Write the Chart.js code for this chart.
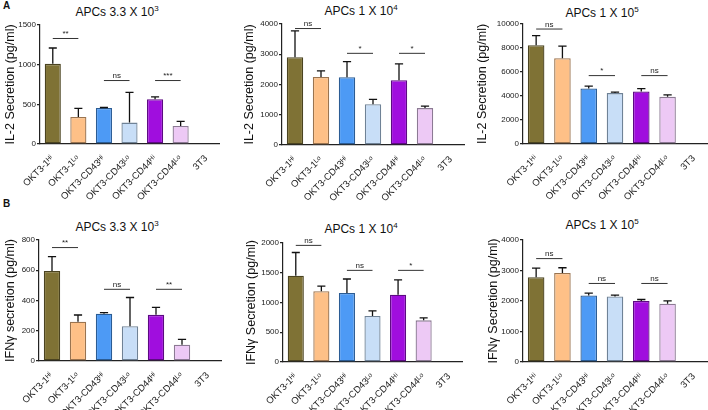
<!DOCTYPE html>
<html>
<head>
<meta charset="utf-8">
<script src="https://cdn.jsdelivr.net/npm/chart.js@4"></script>
<style>
  body { margin: 0; background: #fff; width: 708px; height: 410px; position: relative; overflow: hidden;
         font-family: 'Liberation Sans', Arial, sans-serif; }
  canvas { position: absolute; }
  .titulo { position: absolute; font-size: 12px; color: #111; white-space: nowrap; transform: translate(-50%, -50%); }
  .titulo sup { font-size: 8px; }
  .letra { position: absolute; font-size: 10px; font-weight: bold; color: #111; }
</style>
</head>
<body>
<div class="letra" style="left:3px;top:0px">A</div>
<div class="letra" style="left:3px;top:198px">B</div>
<div class="titulo" style="left:117px;top:11px">APCs 3.3 X 10<sup>3</sup></div>
<div class="titulo" style="left:361px;top:10px">APCs 1 X 10<sup>4</sup></div>
<div class="titulo" style="left:602px;top:12px">APCs 1 X 10<sup>5</sup></div>
<div class="titulo" style="left:117px;top:226px">APCs 3.3 X 10<sup>3</sup></div>
<div class="titulo" style="left:361px;top:228px">APCs 1 X 10<sup>4</sup></div>
<div class="titulo" style="left:602px;top:224px">APCs 1 X 10<sup>5</sup></div>

<canvas id="a1"></canvas>
<canvas id="a2"></canvas>
<canvas id="a3"></canvas>
<canvas id="b1"></canvas>
<canvas id="b2"></canvas>
<canvas id="b3"></canvas>

<script>
// Categorias (eixo x)
const categorias = ['OKT3-1ᴴⁱ', 'OKT3-1ᴸᵒ', 'OKT3-CD43ᴴⁱ', 'OKT3-CD43ᴸᵒ', 'OKT3-CD44ᴴⁱ', 'OKT3-CD44ᴸᵒ', '3T3'];

// IL-2 (painel A) - médias e erros
const il2Baixo = [1010, 340, 455, 270, 565, 228, 0];
const il2BaixoErro = [200, 110, 5, 380, 30, 57, 0];
const il2Medio = [2900, 2250, 2240, 1345, 2140, 1220, 0];
const il2MedioErro = [870, 200, 515, 165, 540, 65, 0];
const il2Alto = [8230, 7150, 4630, 4240, 4380, 3930, 0];
const il2AltoErro = [800, 1000, 200, 80, 230, 160, 0];

// IFN-gamma (painel B)
const ifnBaixo = [595, 260, 313, 230, 305, 108, 0];
const ifnBaixoErro = [95, 44, 7, 190, 50, 35, 0];
const ifnMedio = [1450, 1190, 1160, 775, 1130, 700, 0];
const ifnMedioErro = [390, 85, 235, 85, 250, 40, 0];
const ifnAlto = [2780, 2920, 2180, 2150, 2000, 1910, 0];
const ifnAltoErro = [300, 170, 75, 45, 50, 95, 0];

// Marcas de significância: [barra inicial, barra final, nível, texto]
const sigA1 = [[0, 1, 1330, '**'], [2, 3, 800, 'ns'], [4, 5, 800, '***']];
const sigA2 = [[0, 1, 3850, 'ns'], [2, 3, 3030, '*'], [4, 5, 3030, '*']];
const sigA3 = [[0, 1, 9580, 'ns'], [2, 3, 5700, '*'], [4, 5, 5700, 'ns']];
const sigB1 = [[0, 1, 750, '**'], [2, 3, 474, 'ns'], [4, 5, 474, '**']];
const sigB2 = [[0, 1, 1960, 'ns'], [2, 3, 1540, 'ns'], [4, 5, 1540, '*']];
const sigB3 = [[0, 1, 3390, 'ns'], [2, 3, 2575, 'ns'], [4, 5, 2575, 'ns']];

// Ticks do eixo y: [máximo, passo]
const ticksA1 = [1500, 500];
const ticksA2 = [4000, 1000];
const ticksA3 = [10000, 2000];
const ticksB1 = [800, 200];
const ticksB2 = [2000, 500];
const ticksB3 = [4000, 1000];

// Paleta
const cores = ['#7f7235', '#fec087', '#4d9af5', '#c8def7', '#a00ede', '#edc9f5', '#ffffff'];
const bordas = ['#4a4320', '#9a7450', '#2b5c94', '#6f8296', '#5c0a82', '#8c7a94', '#ffffff'];

const FONTE = "'Liberation Sans', Arial, sans-serif";

// Plugin de barras de erro e significância
const extrasPlugin = {
    id: 'extras',
    afterDatasetsDraw(chart) {
        const ctx = chart.ctx;
        const meta = chart.getDatasetMeta(0);
        const y = chart.scales.y;
        const vals = chart.data.datasets[0].data;
        const erros = chart.options.plugins.extras.erros;
        ctx.save();
        ctx.strokeStyle = '#111';
        ctx.lineWidth = 1.3;
        meta.data.forEach((bar, i) => {
            if (!erros[i]) return;
            const yTop = y.getPixelForValue(vals[i] + erros[i]);
            const half = bar.width * 0.25;
            ctx.beginPath();
            ctx.moveTo(bar.x, bar.y);
            ctx.lineTo(bar.x, yTop);
            ctx.moveTo(bar.x - half, yTop);
            ctx.lineTo(bar.x + half, yTop);
            ctx.stroke();
        });
        ctx.lineWidth = 1;
        ctx.strokeStyle = '#333';
        ctx.fillStyle = '#222';
        ctx.font = '8px ' + FONTE;
        ctx.textAlign = 'center';
        ctx.textBaseline = 'bottom';
        chart.options.plugins.extras.sig.forEach(([a, b, nivel, txt]) => {
            const x1 = meta.data[a].x;
            const x2 = meta.data[b].x;
            const yy = y.getPixelForValue(nivel);
            ctx.beginPath();
            ctx.moveTo(x1, yy);
            ctx.lineTo(x2, yy);
            ctx.stroke();
            ctx.fillText(txt, (x1 + x2) / 2, yy - 0.5);
        });
        ctx.restore();
    }
};

// Criar painel: caixa do canvas e área do gráfico em coordenadas da página
function criarPainel(id, caixa, area, valores, erros, sig, ticks, tituloY) {
    const cv = document.getElementById(id);
    const [cl, ct, cw, ch] = caixa;
    cv.style.left = cl + 'px';
    cv.style.top = ct + 'px';
    cv.width = cw;
    cv.height = ch;
    const [al, at, ar, ab] = area;

    new Chart(cv, {
        type: 'bar',
        data: {
            labels: categorias,
            datasets: [{
                data: valores,
                backgroundColor: cores,
                borderColor: bordas,
                borderWidth: 1.3,
                borderSkipped: false,
                barPercentage: 0.63,
                categoryPercentage: 1
            }]
        },
        options: {
            responsive: false,
            animation: false,
            events: [],
            layout: { padding: { left: 0, top: at - ct, right: cl + cw - ar, bottom: 0 } },
            plugins: {
                legend: { display: false },
                tooltip: { enabled: false },
                extras: { erros: erros, sig: sig }
            },
            scales: {
                x: {
                    grid: { display: false },
                    border: { display: true, color: '#222', width: 1.2 },
                    ticks: {
                        color: '#222',
                        font: { family: FONTE, size: 9.5 },
                        minRotation: 45, maxRotation: 45,
                        padding: 1,
                        autoSkip: false
                    },
                    afterFit: s => { s.height = ct + ch - ab; }
                },
                y: {
                    min: 0,
                    max: ticks[0],
                    grid: { drawOnChartArea: false, drawTicks: true, tickLength: 3, color: '#222', lineWidth: 1.2 },
                    border: { display: true, color: '#222', width: 1.2 },
                    ticks: {
                        stepSize: ticks[1],
                        color: '#222',
                        font: { family: FONTE, size: 8 },
                        padding: 1,
                        callback: v => String(v)
                    },
                    title: {
                        display: true,
                        text: tituloY,
                        color: '#111',
                        font: { family: FONTE, size: 12.5 },
                        padding: { top: 3, bottom: 0 }
                    },
                    afterFit: s => { s.width = al - cl; }
                }
            }
        },
        plugins: [extrasPlugin]
    });
}

document.addEventListener('DOMContentLoaded', () => {
    criarPainel('a1', [0, 15, 236, 190], [40, 25, 219, 144], il2Baixo, il2BaixoErro, sigA1, ticksA1, 'IL-2 Secretion (pg/ml)');
    criarPainel('a2', [239, 15, 233, 190], [282, 24, 464, 145], il2Medio, il2MedioErro, sigA2, ticksA2, 'IL-2 Secretion (pg/ml)');
    criarPainel('a3', [472, 15, 236, 190], [523, 24, 707, 144], il2Alto, il2AltoErro, sigA3, ticksA3, 'IL-2 Secretion (pg/ml)');
    criarPainel('b1', [0, 230, 236, 180], [39, 240, 221, 361], ifnBaixo, ifnBaixoErro, sigB1, ticksB1, 'IFNγ secretion (pg/ml)');
    criarPainel('b2', [241, 230, 231, 180], [283, 243, 462, 362], ifnMedio, ifnMedioErro, sigB2, ticksB2, 'IFNγ Secretion (pg/ml)');
    criarPainel('b3', [483, 230, 225, 180], [523, 240, 707, 362], ifnAlto, ifnAltoErro, sigB3, ticksB3, 'IFNγ Secretion (pg/ml)');
});
</script>
</body>
</html>
